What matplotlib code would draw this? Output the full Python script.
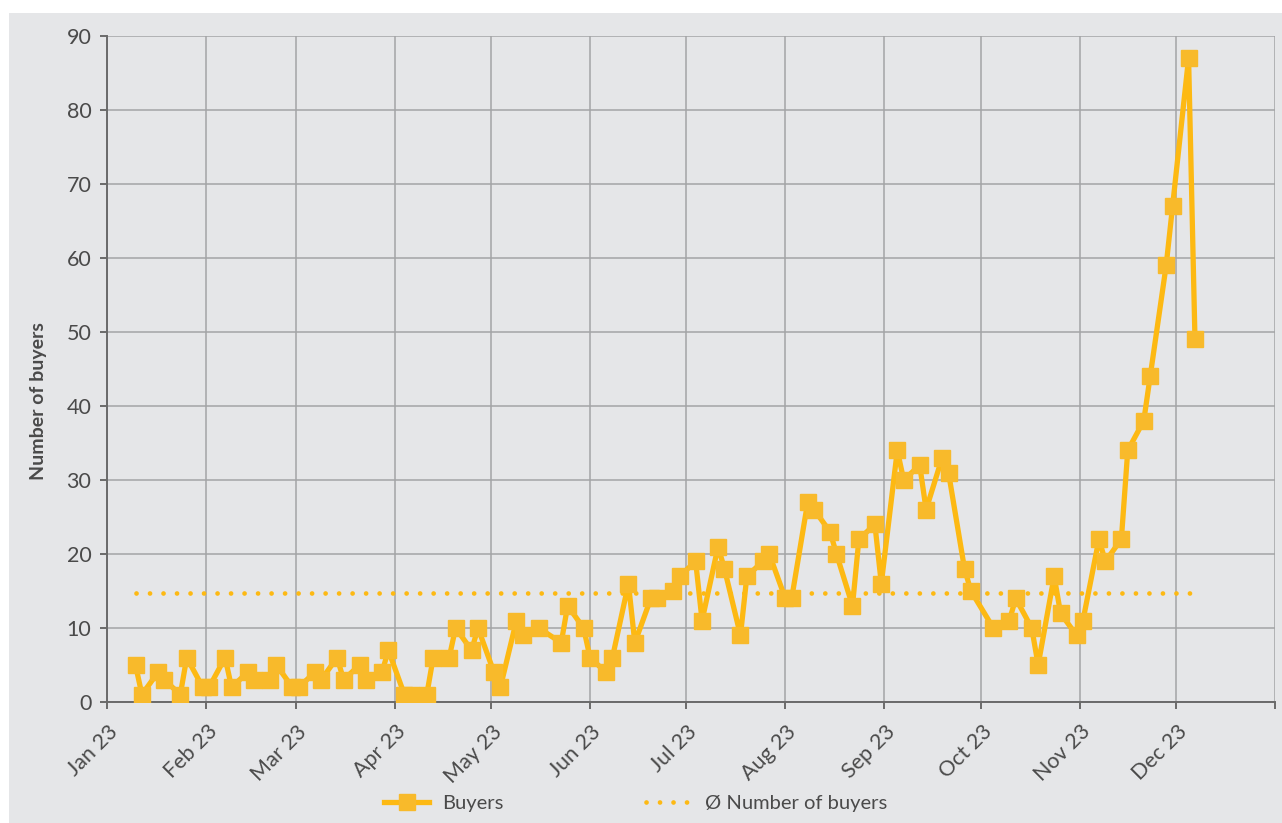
import matplotlib
matplotlib.use("Agg")
import matplotlib.pyplot as plt
import matplotlib.transforms as mtransforms
from matplotlib.patches import Rectangle
from matplotlib.lines import Line2D
import numpy as np
import pandas as pd

plt.rcParams['font.family'] = ['Lato', 'DejaVu Sans']

# ---- data ----
dates = [
    "2023-01-10", "2023-01-12", "2023-01-17", "2023-01-19", "2023-01-24", "2023-01-26", "2023-01-31",
    "2023-02-02", "2023-02-07", "2023-02-09", "2023-02-14", "2023-02-16", "2023-02-21", "2023-02-23", "2023-02-28",
    "2023-03-02", "2023-03-07", "2023-03-09", "2023-03-14", "2023-03-16", "2023-03-21", "2023-03-23", "2023-03-28", "2023-03-30",
    "2023-04-04", "2023-04-06", "2023-04-11", "2023-04-13", "2023-04-18", "2023-04-20", "2023-04-25", "2023-04-27",
    "2023-05-02", "2023-05-04", "2023-05-09", "2023-05-11", "2023-05-16", "2023-05-23", "2023-05-25", "2023-05-30",
    "2023-06-01", "2023-06-06", "2023-06-08", "2023-06-13", "2023-06-15", "2023-06-20", "2023-06-22", "2023-06-27", "2023-06-29",
    "2023-07-04", "2023-07-06", "2023-07-11", "2023-07-13", "2023-07-18", "2023-07-20", "2023-07-25", "2023-07-27",
    "2023-08-01", "2023-08-03", "2023-08-08", "2023-08-10", "2023-08-15", "2023-08-17", "2023-08-22", "2023-08-24", "2023-08-29", "2023-08-31",
    "2023-09-05", "2023-09-07", "2023-09-12", "2023-09-14", "2023-09-19", "2023-09-21", "2023-09-26", "2023-09-28",
    "2023-10-05", "2023-10-10", "2023-10-12", "2023-10-17", "2023-10-19", "2023-10-24", "2023-10-26", "2023-10-31",
    "2023-11-02", "2023-11-07", "2023-11-09", "2023-11-14", "2023-11-16", "2023-11-21", "2023-11-23", "2023-11-28", "2023-11-30",
    "2023-12-05", "2023-12-07",
]
buyers = [
    5, 1, 4, 3, 1, 6, 2,
    2, 6, 2, 4, 3, 3, 5, 2,
    2, 4, 3, 6, 3, 5, 3, 4, 7,
    1, 1, 1, 6, 6, 10, 7, 10,
    4, 2, 11, 9, 10, 8, 13, 10,
    6, 4, 6, 16, 8, 14, 14, 15, 17,
    19, 11, 21, 18, 9, 17, 19, 20,
    14, 14, 27, 26, 23, 20, 13, 22, 24, 16,
    34, 30, 32, 26, 33, 31, 18, 15,
    10, 11, 14, 10, 5, 17, 12, 9,
    11, 22, 19, 22, 34, 38, 44, 59, 67,
    87, 49,
]
y_ticks = [0, 10, 20, 30, 40, 50, 60, 70, 80, 90]
series_label = "Buyers"
avg_label = "Ø Number of buyers"
y_title = "Number of buyers"

# ---- styling ----
BG = "#E5E6E8"
LINE = "#FDB913"
MARK = "#F8BA2B"
GRID = "#A3A4A6"
AXIS = "#6A6A6A"
TXT = "#4A4A4A"
FS = 15.5
LFS = 14.5

x = pd.to_datetime(dates)
avg = float(np.mean(buyers))

W, H = 1282, 823
fig = plt.figure(figsize=(W / 100, H / 100), dpi=100, facecolor="white")
fig.patches.append(Rectangle((9 / W, 0), 1 - 9 / W, 1 - 13 / H, transform=fig.transFigure,
                             facecolor=BG, edgecolor="none", zorder=-10))

ax = fig.add_axes([106.7 / W, 1 - 702 / H, (1275 - 106.7) / W, (702 - 36) / H])
ax.set_facecolor(BG)

ax.plot(x, [avg] * len(x), color=LINE, lw=3.4, linestyle=(0, (0.01, 2.85)),
        dash_capstyle="round", zorder=3)
ax.plot(x, buyers, color=LINE, lw=3.8, marker="s", markersize=11.5,
        markerfacecolor=MARK, markeredgecolor=MARK, zorder=4)

ax.set_ylim(0, 90)
ax.set_yticks(y_ticks)
ax.set_xlim(pd.Timestamp("2023-01-01"), pd.Timestamp("2024-01-01"))
month_ticks = pd.date_range("2023-01-01", "2024-01-01", freq="MS")
ax.set_xticks(month_ticks)
ax.set_xticklabels([d.strftime("%b %y") for d in month_ticks[:-1]] + [""])

ax.grid(True, color=GRID, lw=1.1, zorder=0)
ax.set_axisbelow(True)
for s in ["top", "right"]:
    ax.spines[s].set_visible(False)
for s in ["left", "bottom"]:
    ax.spines[s].set_color(AXIS)
    ax.spines[s].set_linewidth(1.4)

ax.tick_params(axis="both", direction="out", length=5, width=1.4, color=AXIS,
               labelsize=FS, labelcolor=TXT)
ax.tick_params(axis="y", pad=6)
ax.tick_params(axis="x", pad=9)
offset = mtransforms.ScaledTranslation(1 / 100, 0, fig.dpi_scale_trans)
for lab in ax.get_xticklabels():
    lab.set_rotation(45)
    lab.set_ha("right")
    lab.set_va("top")
    lab.set_rotation_mode("anchor")
    lab.set_transform(lab.get_transform() + offset)

fig.text(39 / W, 1 - 401 / H, y_title, rotation=90, ha="center", va="center",
         fontsize=14, fontweight="bold", color=TXT)

fs_px = LFS * 100 / 72
h1 = Line2D([], [], color=LINE, lw=3.8, marker="s", markersize=11.5,
            markerfacecolor=MARK, markeredgecolor=MARK)
h2 = Line2D([], [], color=LINE, lw=3.4, linestyle=(0, (0.01, 2.85)), dash_capstyle="round")
leg1 = fig.legend([h1], [series_label], loc="center left",
                  bbox_to_anchor=(384 / W, 1 - 803 / H), frameon=False, fontsize=LFS,
                  borderpad=0, borderaxespad=0, handlelength=45 / fs_px,
                  handletextpad=13 / fs_px, labelcolor=TXT)
leg2 = fig.legend([h2], [avg_label], loc="center left",
                  bbox_to_anchor=(646 / W, 1 - 803 / H), frameon=False, fontsize=LFS,
                  borderpad=0, borderaxespad=0, handlelength=54 / fs_px,
                  handletextpad=5 / fs_px, labelcolor=TXT)

fig.savefig("out.png", dpi=100, facecolor=fig.get_facecolor())
